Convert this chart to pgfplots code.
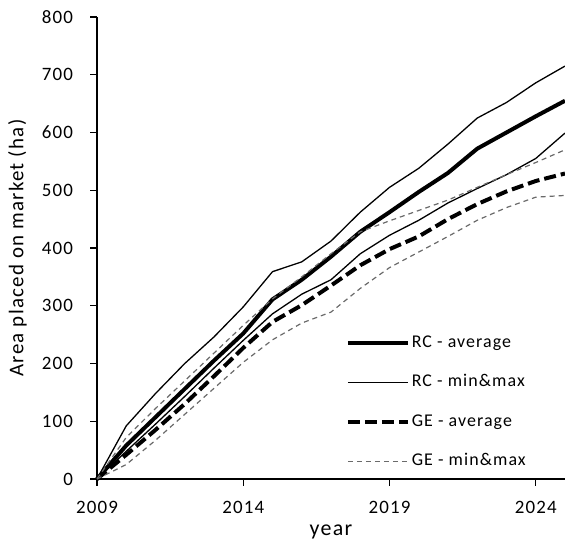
\documentclass[border=0pt]{standalone}
\usepackage{pgfplots}
\pgfplotsset{compat=1.18}
\usepackage{pgfplotstable}
\usepackage{fontspec}
\setmainfont{Carlito}[LetterSpace=6]
\definecolor{thin}{HTML}{606060}
\definecolor{thindash}{HTML}{6A6A6A}

\pgfplotstableread{
year rcavg rcmax rcmin geavg gemax gemin
2009 0   0   0   0   0   0
2010 58  92  48  42  72  25
2011 107 148 95  85  122 67
2012 156 200 143 130 170 112
2013 205 246 192 178 218 157
2014 252 298 240 227 266 202
2015 311 359 286 272 312 241
2016 345 376 320 301 350 270
2017 385 412 345 335 390 289
2018 428 462 390 370 428 330
2019 462 505 422 398 447 366
2020 497 538 448 420 465 393
2021 530 580 478 450 483 420
2022 572 625 503 476 505 448
2023 600 652 527 498 527 470
2024 628 686 555 516 548 488
2025 655 715 599 529 570 491
}\data

\begin{document}
\begin{tikzpicture}
\begin{axis}[
  name=ax,
  scale only axis,
  width=468bp, height=462bp,
  xmin=2009, xmax=2025,
  ymin=0, ymax=800,
  axis x line*=bottom,
  axis y line*=left,
  axis line style={line width=1.3bp, black},
  xtick={2009,2014,2019,2024},
  ytick={0,100,...,800},
  tick align=outside,
  major tick length=7bp,
  tick style={line width=1.2bp, black},
  /pgf/number format/assume math mode=true,
  /pgf/number format/1000 sep={},
  ticklabel style={font=\fontsize{19}{22}\selectfont},
  yticklabel style={anchor=east, xshift=-13.5bp},
  xticklabel style={anchor=north, yshift=-12bp},
  xlabel={year},
  ylabel={Area placed on market (ha)},
  xlabel style={font=\fontsize{22}{26}\selectfont, at={(axis description cs:0.5,0)}, anchor=north, yshift=-42bp},
  ylabel style={font=\fontsize{21}{25}\selectfont, at={(axis description cs:-0.1425,0.5)}, anchor=south},
  clip=false,
  legend cell align=left,
  legend style={draw=none, fill=none, inner sep=0pt,
    font=\fontsize{18}{21}\selectfont,
    nodes={text height=13bp, text depth=4bp, inner sep=2bp},
    at={(axis cs:2017.5,254.5)}, anchor=north west, row sep=18.5bp,
    /tikz/every even column/.append style={column sep=0bp}},
  legend image code/.code={\draw[#1] (0bp,0bp) -- (60bp,0bp);},
]
\addplot[black, line width=4bp] table[x=year, y=rcavg] {\data};
\addlegendentry{RC - average}
\addplot[thin, line width=1.3bp] table[x=year, y=rcmax] {\data};
\addlegendentry{RC - min\&max}
\addplot[thin, line width=1.3bp, forget plot] table[x=year, y=rcmin] {\data};
\addplot[black, line width=4bp, dash pattern=on 12bp off 5bp] table[x=year, y=geavg] {\data};
\addlegendentry{GE - average}
\addplot[thindash, line width=1.2bp, dash pattern=on 5bp off 4bp] table[x=year, y=gemax] {\data};
\addlegendentry{GE - min\&max}
\addplot[thindash, line width=1.2bp, dash pattern=on 5bp off 4bp, forget plot] table[x=year, y=gemin] {\data};
\end{axis}
\pgfresetboundingbox
\path[use as bounding box] ([xshift=-97bp,yshift=-63bp]ax.south west) rectangle ([yshift=17bp]ax.north east);
\end{tikzpicture}
\end{document}
